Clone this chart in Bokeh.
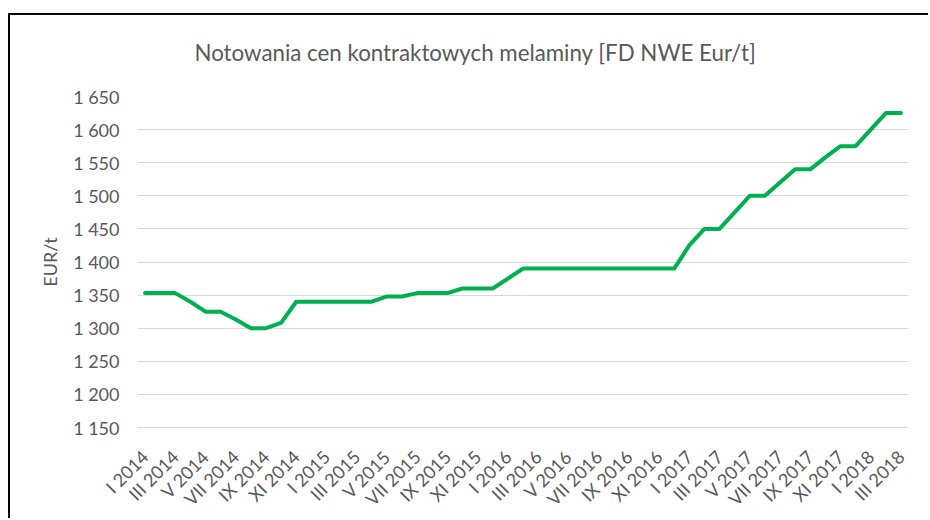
import math
from bokeh.plotting import figure
from bokeh.models import Range1d, FixedTicker
from bokeh.embed import file_html
from bokeh.resources import INLINE

# ---- data ----
months_x = list(range(51))  # I 2014 .. III 2018, monthly
values = [
    1353, 1353, 1353, 1340, 1325, 1325, 1313, 1300, 1300, 1308,
    1340, 1340, 1340, 1340, 1340, 1340, 1348, 1348, 1353, 1353,
    1353, 1360, 1360, 1360, 1375, 1390, 1390, 1390, 1390, 1390,
    1390, 1390, 1390, 1390, 1390, 1390, 1425, 1450, 1450, 1475,
    1500, 1500, 1520, 1540, 1540, 1558, 1575, 1575, 1600, 1625,
    1625,
]
x_tick_pos = list(range(0, 51, 2))
x_tick_labels = [
    "I 2014", "III 2014", "V 2014", "VII 2014", "IX 2014", "XI 2014",
    "I 2015", "III 2015", "V 2015", "VII 2015", "IX 2015", "XI 2015",
    "I 2016", "III 2016", "V 2016", "VII 2016", "IX 2016", "XI 2016",
    "I 2017", "III 2017", "V 2017", "VII 2017", "IX 2017", "XI 2017",
    "I 2018", "III 2018",
]
y_tick_vals = [1150, 1200, 1250, 1300, 1350, 1400, 1450, 1500, 1550, 1600, 1650]
y_tick_labels = ["1 150", "1 200", "1 250", "1 300", "1 350", "1 400",
                 "1 450", "1 500", "1 550", "1 600", "1 650"]
title_text = "Notowania cen kontraktowych melaminy [FD NWE Eur/t]"

TXT = "#595959"
FONT = "Lato"

# trailing empty line gives the title box extra height so the text sits higher
p = figure(width=920, height=505, output_backend="svg", toolbar_location=None,
           x_range=Range1d(-0.5, 50.5), y_range=Range1d(1150, 1650),
           min_border_left=127, min_border_right=22, min_border_top=81,
           min_border_bottom=91, title=title_text + "\n")
p.styles = {"border-left": "2px solid black", "border-top": "2px solid black",
            "margin-top": "13px", "margin-left": "8px"}

p.title.text_font = FONT
p.title.text_font_size = "22.3px"
p.title.text_font_style = "normal"
p.title.text_color = TXT
p.title.align = "left"
p.title.offset = 57
p.title.vertical_align = "top"
p.title.standoff = 4

p.outline_line_color = None
p.xgrid.grid_line_color = None
p.ygrid.grid_line_color = "#d9d9d9"
p.ygrid.grid_line_width = 1

p.line(months_x, values, line_color="#00b050", line_width=4,
       line_join="round", line_cap="round")

xa = p.xaxis[0]
xa.ticker = FixedTicker(ticks=x_tick_pos)
xa.major_label_overrides = {t: l for t, l in zip(x_tick_pos, x_tick_labels)}
xa.major_label_orientation = math.pi / 4
xa.major_tick_line_color = None
xa.major_tick_out = 0
xa.major_tick_in = 0
xa.minor_tick_line_color = None
xa.axis_line_color = "#d9d9d9"
xa.major_label_text_font = FONT
xa.major_label_text_font_size = "18px"
xa.major_label_text_color = TXT
xa.major_label_standoff = 26

ya = p.yaxis[0]
ya.ticker = FixedTicker(ticks=y_tick_vals)
ya.major_label_overrides = {v: l for v, l in zip(y_tick_vals, y_tick_labels)}
ya.major_tick_line_color = None
ya.major_tick_out = 0
ya.major_tick_in = 0
ya.minor_tick_line_color = None
ya.axis_line_color = None
ya.major_label_text_font = FONT
ya.major_label_text_font_size = "18px"
ya.major_label_text_color = TXT
ya.major_label_standoff = 18
ya.axis_label = "EUR/t"
ya.axis_label_text_font = FONT
ya.axis_label_text_font_size = "18px"
ya.axis_label_text_font_style = "normal"
ya.axis_label_text_color = TXT
ya.axis_label_standoff = 9

open("out.html", "w").write(file_html(p, INLINE))
